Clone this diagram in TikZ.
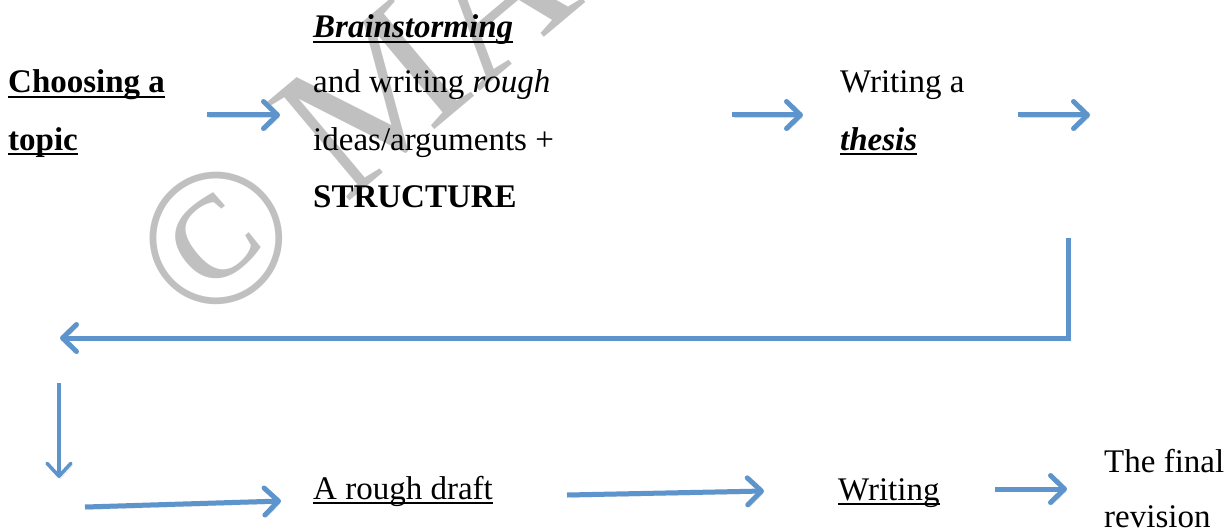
\documentclass[tikz,border=0pt]{standalone}
\usepackage{fontspec}
\setmainfont{Liberation Serif}
\usetikzlibrary{arrows.meta}
\definecolor{arrowblue}{RGB}{94,148,204}
\definecolor{wmgray}{RGB}{192,192,192}
\newsavebox{\myulbox}
\newcommand{\myul}[1]{\sbox{\myulbox}{#1}\leavevmode\rlap{\rule[-4.9pt]{\wd\myulbox}{1.8pt}}\usebox{\myulbox}}
\begin{document}
\begin{tikzpicture}[x=1pt,y=-1pt,
  txt/.style={anchor=base west,inner sep=0pt,font=\fontsize{33}{40}\selectfont},
  wm/.style={inner sep=0pt,text=wmgray,font=\fontsize{196}{196}\selectfont},
  shadowed/.style={preaction={draw=black,opacity=0.15,transform canvas={shift={(1.5pt,-2.5pt)}}}},
  flow/.style={shadowed,draw=arrowblue,line width=5pt,line join=miter,
    -{Straight Barb[length=14pt,width=27pt,line cap=round,line join=round]}},
  thinflow/.style={shadowed,draw=arrowblue,line width=3.5pt,
    -{Straight Barb[length=13pt,width=24pt,line cap=round,line join=round]}}]
\useasboundingbox (0,0) rectangle (1230,532);
\clip (0,0) rectangle (1230,532);
\fill[white] (0,0) rectangle (1230,532);
% watermark
\node[wm,rotate=40] (wmc) at (216,238) {©};
\node[wm,rotate=40,anchor=base west] (wmt) at (345,205) {MA};
% texts
\node[txt] (choose1) at (8,93) {\textbf{\myul{Choosing a}}};
\node[txt] (choose2) at (8,150) {\textbf{\myul{topic}}};
\node[txt] (brain1) at (313,38) {\textbf{\textit{\myul{Brainstorming}}}};
\node[txt] (brain2) at (313,93) {and writing \textit{rough}};
\node[txt] (brain3) at (313,150) {ideas/arguments +};
\node[txt] (brain4) at (313,207) {\textbf{STRUCTURE}};
\node[txt] (thesis1) at (840,93) {Writing a};
\node[txt] (thesis2) at (840,150) {\textbf{\textit{\myul{thesis}}}};
\node[txt] (draft) at (313,499) {\myul{A rough draft}};
\node[txt] (writing) at (838,500) {\myul{Writing}};
\node[txt] (final1) at (1104,472) {The final};
\node[txt] (final2) at (1104,527) {revision};
% arrow end points
\coordinate (a1s) at (207,115);
\coordinate (a1e) at (280,115);
\coordinate (a2s) at (732,115);
\coordinate (a2e) at (803,115);
\coordinate (a3s) at (1018,115);
\coordinate (a3e) at (1090,115);
\coordinate (b0) at (1068,238);
\coordinate (b1) at (1068,338);
\coordinate (b2) at (60,338);
\coordinate (d0) at (59,383);
\coordinate (d1) at (59,478);
\coordinate (a6s) at (85,507);
\coordinate (a6e) at (281,501);
\coordinate (a7s) at (567,495);
\coordinate (a7e) at (764,491);
\coordinate (a8s) at (995,489);
\coordinate (a8e) at (1067,489);
% arrows
\draw[flow] (a1s) -- (a1e);
\draw[flow] (a2s) -- (a2e);
\draw[flow] (a3s) -- (a3e);
\draw[flow] (b0) -- (b1) -- (b2);
\draw[thinflow] (d0) -- (d1);
\draw[flow] (a6s) -- (a6e);
\draw[flow] (a7s) -- (a7e);
\draw[flow] (a8s) -- (a8e);
\end{tikzpicture}
\end{document}
